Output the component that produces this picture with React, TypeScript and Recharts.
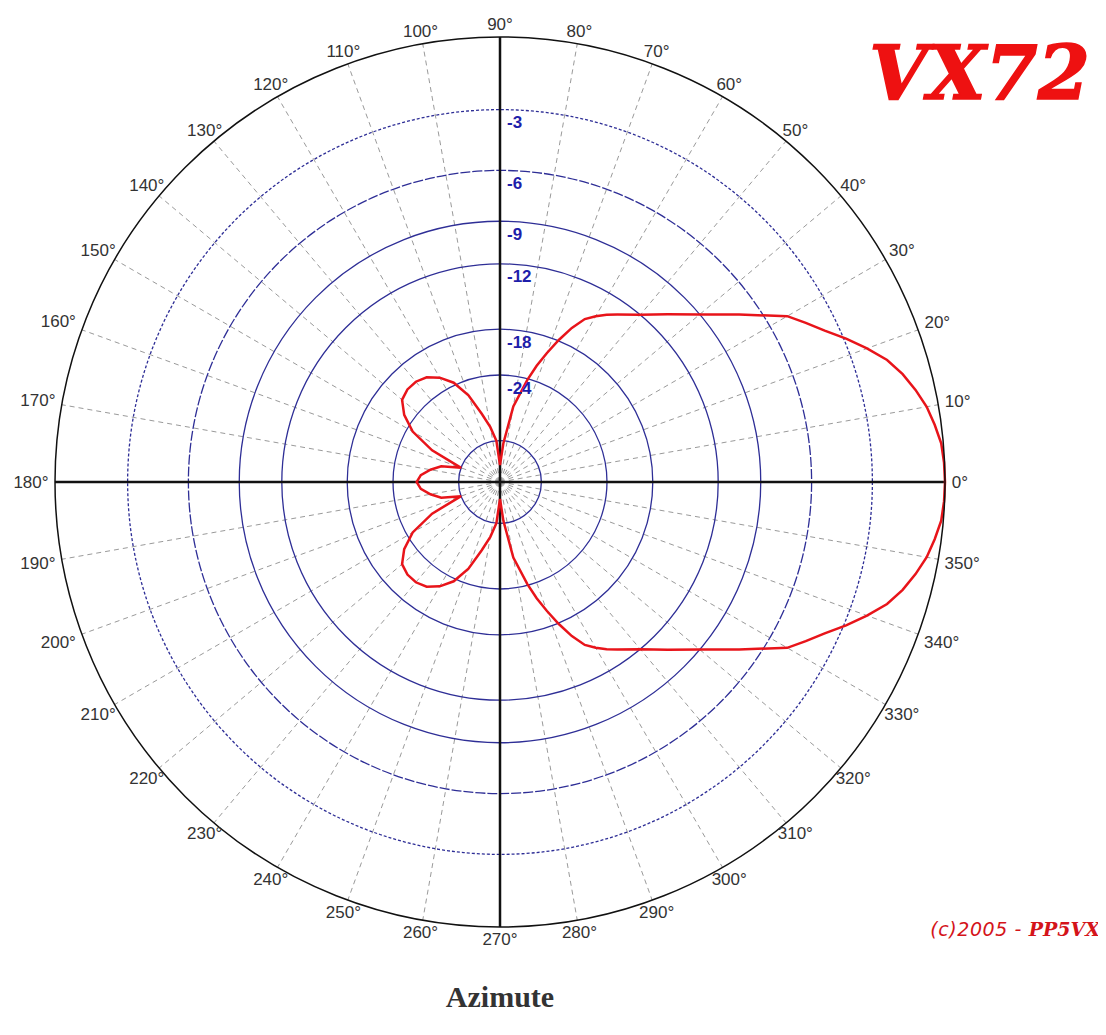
import React from 'react';
import { RadarChart, Radar, PolarGrid, PolarAngleAxis, PolarRadiusAxis } from 'recharts';

// azimuth in degrees, 0 = right, counter-clockwise
const angles = [
  0, 2.5, 5, 7.5, 10, 12.5, 15, 17.5, 20, 22.5, 25, 27.5, 30, 35, 40, 45, 50, 55, 57.5, 60, 62.5, 65, 67.5, 70, 72.5, 75, 80, 85,
  90, 95, 100, 105, 110, 115, 120, 125, 130, 135, 140, 145, 150, 155, 160, 165, 170, 175,
  180, 185, 190, 195, 200, 205, 210, 215, 220, 225, 230, 235, 240, 245, 250, 255, 260, 265,
  270, 275, 280, 285, 287.5, 290, 292.5, 295, 297.5, 300, 302.5, 305, 310, 315, 320, 325, 330, 332.5, 335, 337.5, 340,
  342.5, 345, 347.5, 350, 352.5, 355, 357.5,
];

// relative gain in dB
const gainDb = [
  0, -0.02, -0.08, -0.25, -0.45, -0.75, -1.1, -1.55, -2.2, -2.9, -3.65, -4.3, -4.95, -7.1, -9.0, -10.6, -12.0, -13.1, -13.6, -14.2, -14.9, -16.2, -17.9, -19.8, -21.8, -24.2, -29.6, -41,
  -55, -40, -35, -31, -26.5, -23.6, -22, -21, -20.6, -20.6, -21, -22.5, -25, -30, -40, -33.5, -31, -29,
  -28.2, -29, -31, -33.5, -40, -30, -25, -22.5, -21, -20.6, -20.6, -21, -22, -23.6, -26.5, -31, -35, -40,
  -55, -41, -29.6, -24.2, -21.8, -19.8, -17.9, -16.2, -14.9, -14.2, -13.6, -13.1, -12.0, -10.6, -9.0, -7.1, -4.95, -4.3, -3.65, -2.9, -2.2,
  -1.55, -1.1, -0.75, -0.45, -0.25, -0.08, -0.02,
];

const angleTicks = [
  0, 10, 20, 30, 40, 50, 60, 70, 80, 90, 100, 110, 120, 130, 140, 150, 160, 170,
  180, 190, 200, 210, 220, 230, 240, 250, 260, 270, 280, 290, 300, 310, 320, 330, 340, 350,
];
const crossTicks = [0, 90, 180, 270];
const labelRingsDb = [-3, -6, -9, -12, -18, -24];
const solidRingsDb = [-9, -12, -18, -24, -40];
const dottedRingsDb = [-3];
const dashedRingsDb = [-6];

// ARRL style log scale: 0.888 per 2 dB
const BASE = 0.888;
const arrl = (db: number) => Math.pow(BASE, -db / 2);
const toDb = (v: number) => -Math.round((2 * Math.log(v)) / Math.log(BASE));

const data = angles.map((a, i) => ({ angle: a, gain: gainDb[i] }));
const gainValue = (d: any) => arrl(d.gain);

const CX = 492;
const CY = 474;
const R = 445;

function AngleTick(props: any) {
  const v = props.payload?.value;
  const text = `${v}°`;
  const rad = (v * Math.PI) / 180;
  const c = Math.cos(rad);
  const s = Math.sin(rad);
  const w = text.length * 9;
  const h = 13;
  const dx = Math.abs(c) > 1e-6 ? w / 2 / Math.abs(c) : Infinity;
  const dy = Math.abs(s) > 1e-6 ? h / 2 / Math.abs(s) : Infinity;
  const r = R + 6 + Math.min(dx, dy);
  return (
    <text
      x={CX + r * c}
      y={CY - r * s}
      textAnchor="middle"
      dominantBaseline="central"
      fontFamily="'Liberation Sans', Arial, sans-serif"
      fontSize={17}
      fill="#333"
    >
      {text}
    </text>
  );
}

function RingTick(props: any) {
  const v = props.payload?.value;
  return (
    <text
      x={props.x + 7}
      y={props.y + 13}
      textAnchor="start"
      dominantBaseline="central"
      fontFamily="'Liberation Sans', Arial, sans-serif"
      fontWeight="bold"
      fontSize={17}
      fill="#1e1eaa"
    >
      {toDb(v)}
    </text>
  );
}

export default function App() {
  return (
    <div style={{ position: 'relative', width: 1098, height: 1019, background: '#fff' }}>
      <RadarChart
        width={1098}
        height={960}
        data={data}
        cx={CX}
        cy={CY}
        innerRadius={0}
        outerRadius={R}
        startAngle={0}
        endAngle={360}
        margin={{ top: 0, right: 0, bottom: 0, left: 0 }}
      >
        <PolarAngleAxis
          angleAxisId={0}
          dataKey="angle"
          type="number"
          domain={[0, 360]}
          ticks={angleTicks}
          tick={<AngleTick />}
          tickLine={false}
          axisLine={{ stroke: '#111', strokeWidth: 1.5 }}
          axisLineType="circle"
        />
        <PolarAngleAxis
          angleAxisId="cross"
          dataKey="angle"
          type="number"
          domain={[0, 360]}
          ticks={crossTicks}
          tick={false}
          tickLine={false}
          axisLine={false}
        />
        <PolarRadiusAxis
          radiusAxisId={0}
          angle={90}
          type="number"
          domain={[0, 1]}
          ticks={labelRingsDb.map(arrl)}
          tick={<RingTick />}
          tickLine={false}
          axisLine={false}
        />
        <PolarRadiusAxis radiusAxisId="solid" angle={90} type="number" domain={[0, 1]} ticks={solidRingsDb.map(arrl)} tick={false} tickLine={false} axisLine={false} />
        <PolarRadiusAxis radiusAxisId="dot" angle={90} type="number" domain={[0, 1]} ticks={dottedRingsDb.map(arrl)} tick={false} tickLine={false} axisLine={false} />
        <PolarRadiusAxis radiusAxisId="dash" angle={90} type="number" domain={[0, 1]} ticks={dashedRingsDb.map(arrl)} tick={false} tickLine={false} axisLine={false} />
        <PolarGrid angleAxisId={0} radiusAxisId={0} gridType="circle" polarRadius={[]} stroke="#9a9a9a" strokeDasharray="5 4" />
        <PolarGrid angleAxisId={0} radiusAxisId="solid" gridType="circle" radialLines={false} stroke="#2e2e96" strokeWidth={1.3} />
        <PolarGrid angleAxisId={0} radiusAxisId="dot" gridType="circle" radialLines={false} stroke="#2e2e96" strokeWidth={1.3} strokeDasharray="3 2" />
        <PolarGrid angleAxisId={0} radiusAxisId="dash" gridType="circle" radialLines={false} stroke="#2e2e96" strokeWidth={1.3} strokeDasharray="10 2" />
        <PolarGrid angleAxisId="cross" radiusAxisId={0} gridType="circle" polarRadius={[]} stroke="#111" strokeWidth={2.5} />
        {/* invisible series so the ring axes get a scale */}
        <Radar dataKey={gainValue} angleAxisId={0} radiusAxisId="solid" stroke="none" fill="none" fillOpacity={0} dot={false} legendType="none" isAnimationActive={false} />
        <Radar dataKey={gainValue} angleAxisId={0} radiusAxisId="dot" stroke="none" fill="none" fillOpacity={0} dot={false} legendType="none" isAnimationActive={false} />
        <Radar dataKey={gainValue} angleAxisId={0} radiusAxisId="dash" stroke="none" fill="none" fillOpacity={0} dot={false} legendType="none" isAnimationActive={false} />
        <Radar
          dataKey={gainValue}
          angleAxisId={0}
          radiusAxisId={0}
          stroke="#e8141a"
          strokeWidth={2.5}
          fill="none"
          fillOpacity={0}
          dot={false}
          isAnimationActive={false}
        />
      </RadarChart>
      <div
        style={{
          position: 'absolute',
          right: 16,
          top: 28,
          fontFamily: "'DejaVu Serif', serif",
          fontWeight: 'bold',
          fontStyle: 'italic',
          fontSize: 75,
          lineHeight: '75px',
          color: '#ee1111',
          WebkitTextStroke: '1.5px #ee1111',
        }}
      >
        VX72
      </div>
      <div
        style={{
          position: 'absolute',
          right: 6,
          top: 910,
          fontSize: 19,
          lineHeight: '22px',
          color: '#d4141a',
          fontStyle: 'italic',
          whiteSpace: 'nowrap',
        }}
      >
        <span style={{ fontFamily: "'DejaVu Sans', Verdana, sans-serif", letterSpacing: 0.6 }}>(c)2005 - </span>
        <span style={{ fontFamily: "'DejaVu Serif', serif", fontWeight: 'bold', fontSize: 19 }}>PP5VX</span>
      </div>
      <div
        style={{
          position: 'absolute',
          left: 392,
          width: 200,
          top: 972,
          textAlign: 'center',
          fontFamily: "'Liberation Serif', 'Times New Roman', serif",
          fontWeight: 'bold',
          fontSize: 30,
          lineHeight: '34px',
          color: '#333',
        }}
      >
        Azimute
      </div>
    </div>
  );
}
